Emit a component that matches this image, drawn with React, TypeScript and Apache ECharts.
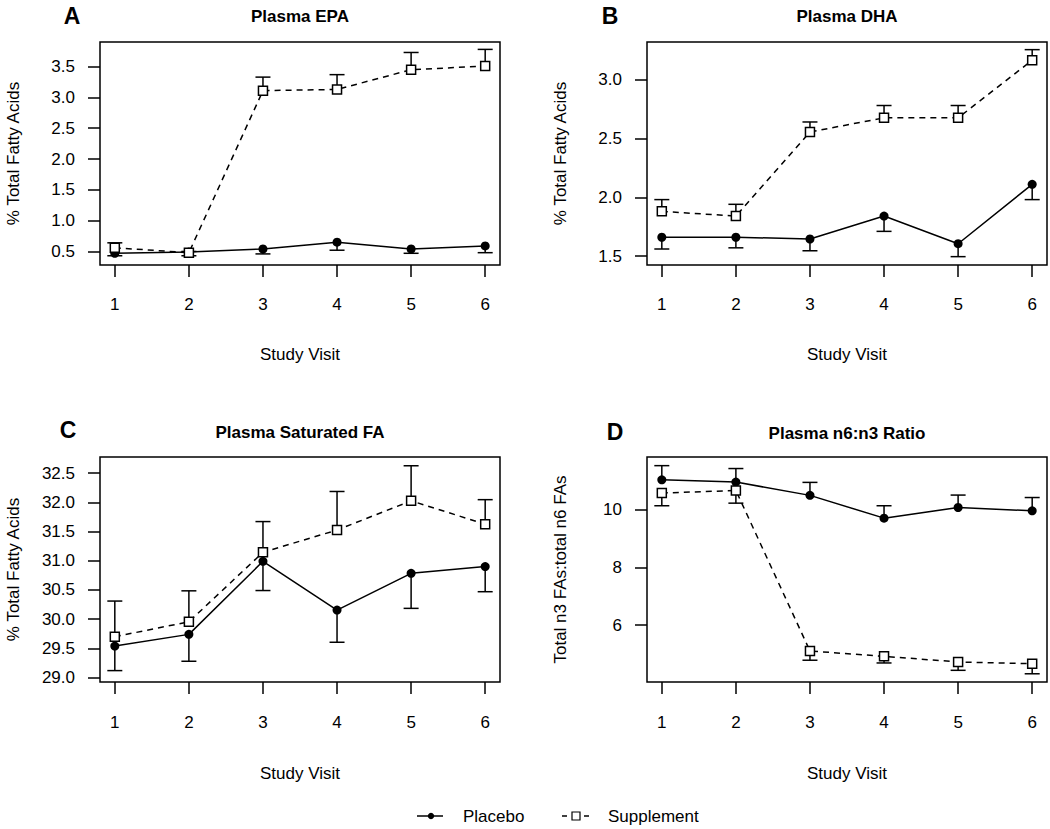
import React, { useEffect, useRef } from "react";
import * as echarts from "echarts";

// ---- data ----
const visits = [1, 2, 3, 4, 5, 6];
const visitTicks = [1, 2, 3, 4, 5, 6];

const epaPlacebo = [0.47, 0.49, 0.54, 0.65, 0.54, 0.59];
const epaPlaceboSE = [0.04, 0.06, 0.08, 0.13, 0.07, 0.11];
const epaSupplement = [0.56, 0.48, 3.11, 3.13, 3.45, 3.51];
const epaSupplementSE = [0.08, 0.02, 0.22, 0.24, 0.28, 0.27];
const epaTicks = [0.5, 1.0, 1.5, 2.0, 2.5, 3.0, 3.5];

const dhaPlacebo = [1.66, 1.66, 1.645, 1.84, 1.605, 2.11];
const dhaPlaceboSE = [0.1, 0.09, 0.1, 0.13, 0.11, 0.13];
const dhaSupplement = [1.88, 1.84, 2.555, 2.675, 2.675, 3.165];
const dhaSupplementSE = [0.1, 0.1, 0.085, 0.105, 0.105, 0.09];
const dhaTicks = [1.5, 2.0, 2.5, 3.0];

const sfaPlacebo = [29.54, 29.74, 30.99, 30.155, 30.785, 30.9];
const sfaPlaceboSE = [0.42, 0.46, 0.5, 0.55, 0.6, 0.43];
const sfaSupplement = [29.7, 29.955, 31.145, 31.525, 32.025, 31.625];
const sfaSupplementSE = [0.61, 0.53, 0.525, 0.66, 0.6, 0.42];
const sfaTicks = [29.0, 29.5, 30.0, 30.5, 31.0, 31.5, 32.0, 32.5];

const ratioPlacebo = [11.04, 10.96, 10.5, 9.71, 10.08, 9.965];
const ratioPlaceboSE = [0.49, 0.47, 0.45, 0.43, 0.43, 0.46];
const ratioSupplement = [10.58, 10.67, 5.105, 4.92, 4.725, 4.665];
const ratioSupplementSE = [0.44, 0.44, 0.32, 0.23, 0.29, 0.35];
const ratioTicks = [6, 8, 10];

const legendNames = ["Placebo", "Supplement"];

const FONT = "'Liberation Sans', Arial, Helvetica, sans-serif";

type Panel = {
  letter: string;
  title: string;
  yName: string;
  left: number;
  top: number;
  height: number;
  yMin: number;
  yMax: number;
  ticks: number[];
  decimals: number;
  placebo: number[];
  placeboSE: number[];
  supplement: number[];
  supplementSE: number[];
  placeboDir: number;
  letterX: number;
  letterY: number;
  titleY: number;
  xNameGap: number;
  xLabelMargin: number;
};

const panels: Panel[] = [
  {
    letter: "A", title: "Plasma EPA", yName: "% Total Fatty Acids",
    left: 100, top: 42, height: 223, yMin: 0.28, yMax: 3.9, ticks: epaTicks, decimals: 1,
    placebo: epaPlacebo, placeboSE: epaPlaceboSE, supplement: epaSupplement, supplementSE: epaSupplementSE,
    placeboDir: -1, letterX: 72, letterY: 15.5, titleY: 16, xNameGap: 81, xLabelMargin: 31,
  },
  {
    letter: "B", title: "Plasma DHA", yName: "% Total Fatty Acids",
    left: 647, top: 42, height: 223, yMin: 1.424, yMax: 3.32, ticks: dhaTicks, decimals: 1,
    placebo: dhaPlacebo, placeboSE: dhaPlaceboSE, supplement: dhaSupplement, supplementSE: dhaSupplementSE,
    placeboDir: -1, letterX: 610, letterY: 15.5, titleY: 16, xNameGap: 81, xLabelMargin: 31,
  },
  {
    letter: "C", title: "Plasma Saturated FA", yName: "% Total Fatty Acids",
    left: 100, top: 457, height: 225, yMin: 28.925, yMax: 32.775, ticks: sfaTicks, decimals: 1,
    placebo: sfaPlacebo, placeboSE: sfaPlaceboSE, supplement: sfaSupplement, supplementSE: sfaSupplementSE,
    placeboDir: -1, letterX: 68, letterY: 430, titleY: 432, xNameGap: 83, xLabelMargin: 32,
  },
  {
    letter: "D", title: "Plasma n6:n3 Ratio", yName: "Total n3 FAs:total n6 FAs",
    left: 647, top: 457, height: 225, yMin: 4.03, yMax: 11.83, ticks: ratioTicks, decimals: 0,
    placebo: ratioPlacebo, placeboSE: ratioPlaceboSE, supplement: ratioSupplement, supplementSE: ratioSupplementSE,
    placeboDir: 1, letterX: 615, letterY: 432, titleY: 433, xNameGap: 83, xLabelMargin: 32,
  },
];

const PLOT_W = 400;
const LW = 1.5;

function errRender(dir: number) {
  return (_params: any, api: any) => {
    const x = api.value(0);
    const m = api.value(1);
    const e = api.value(2);
    const p0 = api.coord([x, m]);
    const p1 = api.coord([x, m + dir * e]);
    const style = { stroke: "#000", lineWidth: LW, fill: "none" };
    return {
      type: "group",
      children: [
        { type: "line", shape: { x1: p0[0], y1: p0[1], x2: p1[0], y2: p1[1] }, style },
        { type: "line", shape: { x1: p1[0] - 7.5, y1: p1[1], x2: p1[0] + 7.5, y2: p1[1] }, style },
      ],
    };
  };
}

function buildOption() {
  const grid: any[] = [];
  const xAxis: any[] = [];
  const yAxis: any[] = [];
  const series: any[] = [];
  const graphic: any[] = [];

  panels.forEach((p, i) => {
    grid.push({
      left: p.left, top: p.top, width: PLOT_W, height: p.height,
      show: true, borderColor: "#000", borderWidth: LW, backgroundColor: "transparent",
      containLabel: false,
    });
    xAxis.push({
      type: "value", gridIndex: i, min: 0.8, max: 6.2,
      splitLine: { show: false },
      axisLine: { show: false },
      axisTick: { show: true, inside: false, length: 12, customValues: visitTicks, lineStyle: { color: "#000", width: LW } },
      axisLabel: { customValues: visitTicks, margin: p.xLabelMargin, color: "#000", fontSize: 17, fontFamily: FONT },
      name: "Study Visit", nameLocation: "middle", nameGap: p.xNameGap,
      nameTextStyle: { color: "#000", fontSize: 17, fontFamily: FONT },
    });
    yAxis.push({
      type: "value", gridIndex: i, min: p.yMin, max: p.yMax,
      splitLine: { show: false },
      axisLine: { show: false },
      axisTick: { show: true, inside: false, length: 12, customValues: p.ticks, lineStyle: { color: "#000", width: LW } },
      axisLabel: {
        customValues: p.ticks, margin: 25, color: "#000", fontSize: 17, fontFamily: FONT,
        formatter: (v: number) => v.toFixed(p.decimals),
      },
      name: p.yName, nameLocation: "middle", nameGap: 78,
      nameTextStyle: { color: "#000", fontSize: 17, fontFamily: FONT },
    });

    series.push({
      name: "Placebo SE", type: "custom", xAxisIndex: i, yAxisIndex: i, z: 1, silent: true,
      renderItem: errRender(p.placeboDir),
      encode: { x: 0, y: 1 },
      data: visits.map((v, k) => [v, p.placebo[k], p.placeboSE[k]]),
    });
    series.push({
      name: "Supplement SE", type: "custom", xAxisIndex: i, yAxisIndex: i, z: 1, silent: true,
      renderItem: errRender(-p.placeboDir),
      encode: { x: 0, y: 1 },
      data: visits.map((v, k) => [v, p.supplement[k], p.supplementSE[k]]),
    });
    series.push({
      name: legendNames[0], type: "line", xAxisIndex: i, yAxisIndex: i, z: 3, silent: true,
      symbol: "circle", symbolSize: 9, showAllSymbol: true,
      itemStyle: { color: "#000" },
      lineStyle: { color: "#000", width: LW, type: "solid" },
      data: visits.map((v, k) => [v, p.placebo[k]]),
    });
    series.push({
      name: legendNames[1], type: "line", xAxisIndex: i, yAxisIndex: i, z: 3, silent: true,
      symbol: "rect", symbolSize: 9, showAllSymbol: true,
      itemStyle: { color: "#fff", borderColor: "#000", borderWidth: LW },
      lineStyle: { color: "#000", width: LW, type: [6, 5] },
      data: visits.map((v, k) => [v, p.supplement[k]]),
    });

    graphic.push({
      type: "text", x: p.letterX, y: p.letterY,
      style: { text: p.letter, fontSize: 23, fontWeight: "bold", fontFamily: FONT, fill: "#000", align: "center", verticalAlign: "middle" },
    });
    graphic.push({
      type: "text", x: p.left + PLOT_W / 2, y: p.titleY,
      style: { text: p.title, fontSize: 17, fontWeight: "bold", fontFamily: FONT, fill: "#000", align: "center", verticalAlign: "middle" },
    });
  });

  // legend (drawn as graphic)
  const ly = 816;
  const lineStyle = { stroke: "#000", lineWidth: LW };
  graphic.push({ type: "line", shape: { x1: 417, y1: ly, x2: 443, y2: ly }, style: lineStyle });
  graphic.push({ type: "circle", shape: { cx: 431, cy: ly, r: 3.2 }, style: { fill: "#000" } });
  graphic.push({
    type: "text", x: 463, y: ly,
    style: { text: legendNames[0], fontSize: 17, fontFamily: FONT, fill: "#000", align: "left", verticalAlign: "middle" },
  });
  graphic.push({ type: "line", shape: { x1: 562, y1: ly, x2: 567, y2: ly }, style: lineStyle });
  graphic.push({ type: "rect", shape: { x: 572, y: ly - 4, width: 8, height: 8 }, style: { fill: "#fff", stroke: "#000", lineWidth: 1.2 } });
  graphic.push({ type: "line", shape: { x1: 584, y1: ly, x2: 589, y2: ly }, style: lineStyle });
  graphic.push({
    type: "text", x: 608, y: ly,
    style: { text: legendNames[1], fontSize: 17, fontFamily: FONT, fill: "#000", align: "left", verticalAlign: "middle" },
  });

  return {
    animation: false,
    backgroundColor: "#fff",
    grid, xAxis, yAxis, series, graphic,
  };
}

export default function App() {
  const ref = useRef<HTMLDivElement>(null);
  useEffect(() => {
    if (!ref.current) return;
    const chart = echarts.init(ref.current, undefined, { renderer: "svg" });
    chart.setOption(buildOption() as any);
    return () => chart.dispose();
  }, []);
  return (
    <div
      ref={ref}
      style={{ position: "fixed", left: 0, top: 0, width: 1050, height: 829, background: "#fff" }}
    />
  );
}
